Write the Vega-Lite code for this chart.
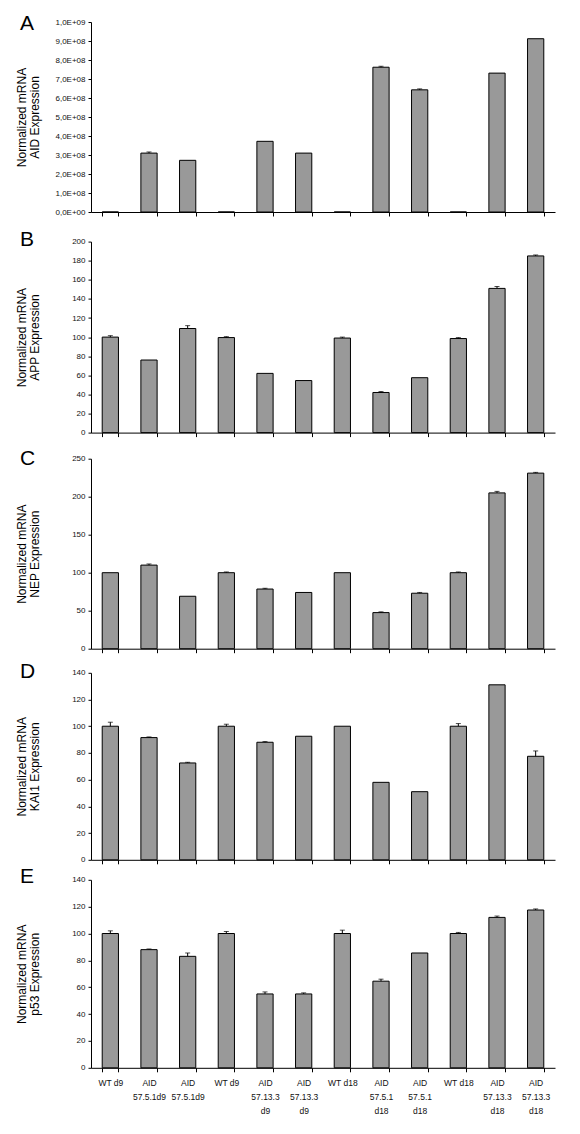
{
  "$schema": "https://vega.github.io/schema/vega-lite/v6.json",
  "padding": {"left": 15, "top": 13, "right": 5, "bottom": 5},
  "background": "white",
  "datasets": {
    "expr": [
      {"gene": "AID", "key": "01|WT d9", "value": 0, "hi": null},
      {"gene": "AID", "key": "02|AID|57.5.1d9", "value": 310000000, "hi": 316000000},
      {"gene": "AID", "key": "03|AID|57.5.1d9", "value": 272000000, "hi": null},
      {"gene": "AID", "key": "04|WT d9", "value": 0, "hi": null},
      {"gene": "AID", "key": "05|AID|57.13.3|d9", "value": 372000000, "hi": null},
      {"gene": "AID", "key": "06|AID|57.13.3|d9", "value": 310000000, "hi": null},
      {"gene": "AID", "key": "07|WT d18", "value": 0, "hi": null},
      {"gene": "AID", "key": "08|AID|57.5.1|d18", "value": 762000000, "hi": 767000000},
      {"gene": "AID", "key": "09|AID|57.5.1|d18", "value": 643000000, "hi": 648000000},
      {"gene": "AID", "key": "10|WT d18", "value": 0, "hi": null},
      {"gene": "AID", "key": "11|AID|57.13.3|d18", "value": 731000000, "hi": null},
      {"gene": "AID", "key": "12|AID|57.13.3|d18", "value": 912000000, "hi": null},

      {"gene": "APP", "key": "01|WT d9", "value": 100, "hi": 101.5},
      {"gene": "APP", "key": "02|AID|57.5.1d9", "value": 76, "hi": null},
      {"gene": "APP", "key": "03|AID|57.5.1d9", "value": 109, "hi": 112},
      {"gene": "APP", "key": "04|WT d9", "value": 99.5, "hi": 100.5},
      {"gene": "APP", "key": "05|AID|57.13.3|d9", "value": 62, "hi": null},
      {"gene": "APP", "key": "06|AID|57.13.3|d9", "value": 54.5, "hi": null},
      {"gene": "APP", "key": "07|WT d18", "value": 99, "hi": 100},
      {"gene": "APP", "key": "08|AID|57.5.1|d18", "value": 42, "hi": 43},
      {"gene": "APP", "key": "09|AID|57.5.1|d18", "value": 57.5, "hi": null},
      {"gene": "APP", "key": "10|WT d18", "value": 98.5, "hi": 99.5},
      {"gene": "APP", "key": "11|AID|57.13.3|d18", "value": 151, "hi": 153},
      {"gene": "APP", "key": "12|AID|57.13.3|d18", "value": 185, "hi": 186},

      {"gene": "NEP", "key": "01|WT d9", "value": 100, "hi": null},
      {"gene": "NEP", "key": "02|AID|57.5.1d9", "value": 110, "hi": 111.5},
      {"gene": "NEP", "key": "03|AID|57.5.1d9", "value": 69, "hi": null},
      {"gene": "NEP", "key": "04|WT d9", "value": 100, "hi": 101},
      {"gene": "NEP", "key": "05|AID|57.13.3|d9", "value": 78.5, "hi": 79.5},
      {"gene": "NEP", "key": "06|AID|57.13.3|d9", "value": 74, "hi": null},
      {"gene": "NEP", "key": "07|WT d18", "value": 100, "hi": null},
      {"gene": "NEP", "key": "08|AID|57.5.1|d18", "value": 47.5, "hi": 48.5},
      {"gene": "NEP", "key": "09|AID|57.5.1|d18", "value": 73, "hi": 74},
      {"gene": "NEP", "key": "10|WT d18", "value": 100, "hi": 101},
      {"gene": "NEP", "key": "11|AID|57.13.3|d18", "value": 205, "hi": 207},
      {"gene": "NEP", "key": "12|AID|57.13.3|d18", "value": 231, "hi": 232},

      {"gene": "KAI1", "key": "01|WT d9", "value": 100, "hi": 103},
      {"gene": "KAI1", "key": "02|AID|57.5.1d9", "value": 91.5, "hi": 92},
      {"gene": "KAI1", "key": "03|AID|57.5.1d9", "value": 72.5, "hi": 73},
      {"gene": "KAI1", "key": "04|WT d9", "value": 100, "hi": 101.5},
      {"gene": "KAI1", "key": "05|AID|57.13.3|d9", "value": 88, "hi": 88.5},
      {"gene": "KAI1", "key": "06|AID|57.13.3|d9", "value": 92.5, "hi": null},
      {"gene": "KAI1", "key": "07|WT d18", "value": 100, "hi": null},
      {"gene": "KAI1", "key": "08|AID|57.5.1|d18", "value": 58, "hi": null},
      {"gene": "KAI1", "key": "09|AID|57.5.1|d18", "value": 51, "hi": null},
      {"gene": "KAI1", "key": "10|WT d18", "value": 100, "hi": 102},
      {"gene": "KAI1", "key": "11|AID|57.13.3|d18", "value": 131, "hi": null},
      {"gene": "KAI1", "key": "12|AID|57.13.3|d18", "value": 77.5, "hi": 81.5},

      {"gene": "p53", "key": "01|WT d9", "value": 100, "hi": 102},
      {"gene": "p53", "key": "02|AID|57.5.1d9", "value": 88, "hi": 88.5},
      {"gene": "p53", "key": "03|AID|57.5.1d9", "value": 83, "hi": 85.5},
      {"gene": "p53", "key": "04|WT d9", "value": 100, "hi": 101.5},
      {"gene": "p53", "key": "05|AID|57.13.3|d9", "value": 55, "hi": 56.5},
      {"gene": "p53", "key": "06|AID|57.13.3|d9", "value": 55, "hi": 55.8},
      {"gene": "p53", "key": "07|WT d18", "value": 100, "hi": 102.5},
      {"gene": "p53", "key": "08|AID|57.5.1|d18", "value": 64.5, "hi": 66},
      {"gene": "p53", "key": "09|AID|57.5.1|d18", "value": 85.5, "hi": null},
      {"gene": "p53", "key": "10|WT d18", "value": 100, "hi": 100.8},
      {"gene": "p53", "key": "11|AID|57.13.3|d18", "value": 112, "hi": 113},
      {"gene": "p53", "key": "12|AID|57.13.3|d18", "value": 117.5, "hi": 118.3}
    ]
  },
  "config": {
    "view": {"stroke": null},
    "font": "Liberation Sans",
    "axis": {
      "grid": false,
      "domainColor": "#000",
      "tickColor": "#000",
      "labelColor": "#111",
      "titleColor": "#000",
      "labelFont": "Liberation Sans",
      "titleFont": "Liberation Sans",
      "titleFontWeight": "normal",
      "titleFontSize": 12
    },
    "title": {
      "anchor": "start",
      "frame": "group",
      "fontSize": 21,
      "fontWeight": "normal",
      "font": "Liberation Sans",
      "color": "#000",
      "baseline": "alphabetic",
      "dx": -71
    }
  },
  "spacing": 11.6,
  "vconcat": [
    {
      "title": {"text": "A", "offset": -16},
      "width": 464,
      "height": 190,
      "data": {"name": "expr"},
      "transform": [{"filter": "datum.gene == 'AID'"}],
      "layer": [
        {
          "mark": {"type": "bar", "fill": "#999999", "stroke": "#000", "strokeWidth": 1},
          "encoding": {
            "x": {"field": "key", "type": "nominal", "sort": null,
              "scale": {"paddingInner": 0.58, "paddingOuter": 0.29},
              "axis": {"title": null, "labels": false, "tickBand": "extent", "tickSize": 4}},
            "y": {"field": "value", "type": "quantitative",
              "scale": {"domain": [0, 1000000000], "nice": false},
              "axis": {"title": ["Normalized mRNA", "AID Expression"], "tickCount": 10, "tickSize": 3, "labelPadding": 3, "labelFontSize": 8,
                "minExtent": 40, "maxExtent": 40, "titlePadding": 10, "titleLineHeight": 13,
                "labelExpr": "datum.value == 0 ? '0,0E+00' : (datum.value >= 1e9 ? '1,0E+09' : format(datum.value / 1e8, '.0f') + ',0E+08')"}}
          }
        },
        {
          "transform": [{"filter": "isValid(datum.hi)"}],
          "mark": {"type": "rule", "color": "#000", "strokeWidth": 1},
          "encoding": {
            "x": {"field": "key", "type": "nominal", "sort": null},
            "y": {"field": "value", "type": "quantitative"},
            "y2": {"field": "hi"}
          }
        },
        {
          "transform": [{"filter": "isValid(datum.hi)"}],
          "mark": {"type": "tick", "color": "#000", "size": 5, "thickness": 1},
          "encoding": {
            "x": {"field": "key", "type": "nominal", "sort": null},
            "y": {"field": "hi", "type": "quantitative"}
          }
        }
      ]
    },
    {
      "spacing": 10.1,
      "vconcat": [
        {
          "title": {"text": "B", "offset": -12.7},
          "width": 464,
          "height": 191,
          "data": {"name": "expr"},
          "transform": [{"filter": "datum.gene == 'APP'"}],
          "layer": [
            {
              "mark": {"type": "bar", "fill": "#999999", "stroke": "#000", "strokeWidth": 1},
              "encoding": {
                "x": {"field": "key", "type": "nominal", "sort": null,
                  "scale": {"paddingInner": 0.58, "paddingOuter": 0.29},
                  "axis": {"title": null, "labels": false, "tickBand": "extent", "tickSize": 4}},
                "y": {"field": "value", "type": "quantitative",
                  "scale": {"domain": [0, 200], "nice": false},
                  "axis": {"title": ["Normalized mRNA", "APP Expression"], "tickCount": 10, "tickSize": 3, "labelPadding": 3, "labelFontSize": 8,
                    "minExtent": 40, "maxExtent": 40, "titlePadding": 10, "titleLineHeight": 13}}
              }
            },
            {
              "transform": [{"filter": "isValid(datum.hi)"}],
              "mark": {"type": "rule", "color": "#000", "strokeWidth": 1},
              "encoding": {
                "x": {"field": "key", "type": "nominal", "sort": null},
                "y": {"field": "value", "type": "quantitative"},
                "y2": {"field": "hi"}
              }
            },
            {
              "transform": [{"filter": "isValid(datum.hi)"}],
              "mark": {"type": "tick", "color": "#000", "size": 5, "thickness": 1},
              "encoding": {
                "x": {"field": "key", "type": "nominal", "sort": null},
                "y": {"field": "hi", "type": "quantitative"}
              }
            }
          ]
        },
        {
          "spacing": 7.1,
          "vconcat": [
            {
              "title": {"text": "C", "offset": -14},
              "width": 464,
              "height": 190,
              "data": {"name": "expr"},
              "transform": [{"filter": "datum.gene == 'NEP'"}],
              "layer": [
                {
                  "mark": {"type": "bar", "fill": "#999999", "stroke": "#000", "strokeWidth": 1},
                  "encoding": {
                    "x": {"field": "key", "type": "nominal", "sort": null,
                      "scale": {"paddingInner": 0.58, "paddingOuter": 0.29},
                      "axis": {"title": null, "labels": false, "tickBand": "extent", "tickSize": 4}},
                    "y": {"field": "value", "type": "quantitative",
                      "scale": {"domain": [0, 250], "nice": false},
                      "axis": {"title": ["Normalized mRNA", "NEP Expression"], "tickCount": 5, "tickSize": 3, "labelPadding": 3, "labelFontSize": 8,
                        "minExtent": 40, "maxExtent": 40, "titlePadding": 10, "titleLineHeight": 13}}
                  }
                },
                {
                  "transform": [{"filter": "isValid(datum.hi)"}],
                  "mark": {"type": "rule", "color": "#000", "strokeWidth": 1},
                  "encoding": {
                    "x": {"field": "key", "type": "nominal", "sort": null},
                    "y": {"field": "value", "type": "quantitative"},
                    "y2": {"field": "hi"}
                  }
                },
                {
                  "transform": [{"filter": "isValid(datum.hi)"}],
                  "mark": {"type": "tick", "color": "#000", "size": 5, "thickness": 1},
                  "encoding": {
                    "x": {"field": "key", "type": "nominal", "sort": null},
                    "y": {"field": "hi", "type": "quantitative"}
                  }
                }
              ]
            },
            {
              "spacing": 1,
              "vconcat": [
                {
                  "title": {"text": "D", "offset": -13},
                  "width": 464,
                  "height": 187,
                  "data": {"name": "expr"},
                  "transform": [{"filter": "datum.gene == 'KAI1'"}],
                  "layer": [
                    {
                      "mark": {"type": "bar", "fill": "#999999", "stroke": "#000", "strokeWidth": 1},
                      "encoding": {
                        "x": {"field": "key", "type": "nominal", "sort": null,
                          "scale": {"paddingInner": 0.58, "paddingOuter": 0.29},
                          "axis": {"title": null, "labels": false, "tickBand": "extent", "tickSize": 4}},
                        "y": {"field": "value", "type": "quantitative",
                          "scale": {"domain": [0, 140], "nice": false},
                          "axis": {"title": ["Normalized mRNA", "KAI1 Expression"], "tickCount": 7, "tickSize": 3, "labelPadding": 3, "labelFontSize": 8,
                            "minExtent": 40, "maxExtent": 40, "titlePadding": 10, "titleLineHeight": 13}}
                      }
                    },
                    {
                      "transform": [{"filter": "isValid(datum.hi)"}],
                      "mark": {"type": "rule", "color": "#000", "strokeWidth": 1},
                      "encoding": {
                        "x": {"field": "key", "type": "nominal", "sort": null},
                        "y": {"field": "value", "type": "quantitative"},
                        "y2": {"field": "hi"}
                      }
                    },
                    {
                      "transform": [{"filter": "isValid(datum.hi)"}],
                      "mark": {"type": "tick", "color": "#000", "size": 5, "thickness": 1},
                      "encoding": {
                        "x": {"field": "key", "type": "nominal", "sort": null},
                        "y": {"field": "hi", "type": "quantitative"}
                      }
                    }
                  ]
                },
                {
                  "title": {"text": "E", "offset": -11.3},
                  "width": 464,
                  "height": 188,
                  "data": {"name": "expr"},
                  "transform": [{"filter": "datum.gene == 'p53'"}],
                  "layer": [
                    {
                      "mark": {"type": "bar", "fill": "#999999", "stroke": "#000", "strokeWidth": 1},
                      "encoding": {
                        "x": {"field": "key", "type": "nominal", "sort": null,
                          "scale": {"paddingInner": 0.58, "paddingOuter": 0.29},
                          "axis": {"title": null, "labels": true, "labelAngle": 0, "tickBand": "extent", "tickSize": 4,
                            "labelFontSize": 8.5, "labelLineHeight": 14, "labelBaseline": "top", "labelPadding": 7,
                            "labelExpr": "slice(split(datum.value, '|'), 1)"}},
                        "y": {"field": "value", "type": "quantitative",
                          "scale": {"domain": [0, 140], "nice": false},
                          "axis": {"title": ["Normalized mRNA", "p53 Expression"], "tickCount": 7, "tickSize": 3, "labelPadding": 3, "labelFontSize": 8,
                            "minExtent": 40, "maxExtent": 40, "titlePadding": 10, "titleLineHeight": 13}}
                      }
                    },
                    {
                      "transform": [{"filter": "isValid(datum.hi)"}],
                      "mark": {"type": "rule", "color": "#000", "strokeWidth": 1},
                      "encoding": {
                        "x": {"field": "key", "type": "nominal", "sort": null},
                        "y": {"field": "value", "type": "quantitative"},
                        "y2": {"field": "hi"}
                      }
                    },
                    {
                      "transform": [{"filter": "isValid(datum.hi)"}],
                      "mark": {"type": "tick", "color": "#000", "size": 5, "thickness": 1},
                      "encoding": {
                        "x": {"field": "key", "type": "nominal", "sort": null},
                        "y": {"field": "hi", "type": "quantitative"}
                      }
                    }
                  ]
                }
              ]
            }
          ]
        }
      ]
    }
  ]
}
